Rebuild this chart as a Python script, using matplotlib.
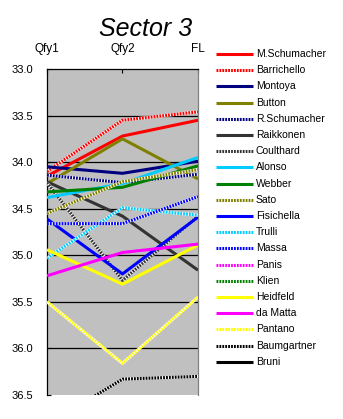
import numpy as np
import matplotlib
matplotlib.use("Agg")
import matplotlib.pyplot as plt
from matplotlib.lines import Line2D

plt.rcParams['font.family'] = ['Liberation Sans', 'DejaVu Sans']
plt.rcParams['lines.scale_dashes'] = False

sessions = ["Qfy1", "Qfy2", "FL"]
y_ticks = [33.0, 33.5, 34.0, 34.5, 35.0, 35.5, 36.0, 36.5]

drivers = ["M.Schumacher", "Barrichello", "Montoya", "Button", "R.Schumacher",
           "Raikkonen", "Coulthard", "Alonso", "Webber", "Sato", "Fisichella",
           "Trulli", "Massa", "Panis", "Klien", "Heidfeld", "da Matta",
           "Pantano", "Baumgartner", "Bruni"]

# sector 3 times (s) for Qfy1, Qfy2, fastest lap
m_schumacher = [34.15, 33.72, 33.55]
barrichello  = [34.10, 33.55, 33.46]
montoya      = [34.05, 34.12, 33.99]
button       = [34.23, 33.75, 34.18]
r_schumacher = [34.14, 34.22, 34.13]
raikkonen    = [34.21, 34.58, 35.16]
coulthard    = [34.22, 35.27, 34.58]
alonso       = [34.38, 34.23, 33.95]
webber       = [34.32, 34.27, 34.04]
sato         = [34.55, 34.21, 34.08]
fisichella   = [34.61, 35.20, 34.59]
trulli       = [35.03, 34.49, 34.57]
massa        = [34.66, 34.66, 34.37]
panis        = [np.nan, np.nan, np.nan]
klien        = [np.nan, np.nan, np.nan]
heidfeld     = [34.94, 35.31, 34.89]
da_matta     = [35.22, 34.97, 34.88]
pantano      = [35.50, 36.16, 35.45]
baumgartner  = [36.82, 36.33, 36.30]
bruni        = [np.nan, np.nan, np.nan]

times = [m_schumacher, barrichello, montoya, button, r_schumacher, raikkonen,
         coulthard, alonso, webber, sato, fisichella, trulli, massa, panis,
         klien, heidfeld, da_matta, pantano, baumgartner, bruni]

colors = ["#FF0000", "#FF0000", "#000080", "#808000", "#000080", "#333333",
          "#333333", "#00CCFF", "#008000", "#808000", "#0000FF", "#00CCFF",
          "#0000FF", "#FF00FF", "#008000", "#FFFF00", "#FF00FF", "#FFFF00",
          "#000000", "#000000"]
dotted = [False, True, False, False, True, False, True, False, False, True,
          False, True, True, True, True, False, False, True, True, False]

W, H = 343, 419
fig = plt.figure(figsize=(W / 100, H / 100), dpi=100)
ax = fig.add_axes([47 / W, 1 - 395 / H, 151 / W, 326 / H])
ax.set_facecolor("#C0C0C0")

x = np.arange(len(sessions))
LW = 2.2

for t in y_ticks[1:-1]:
    ax.axhline(t, color="black", lw=0.9, zorder=1)


def draw_series(xs, ys, color, is_dotted, transform=None):
    kw = {} if transform is None else {"transform": transform}
    if is_dotted:
        a = Line2D(xs, ys, color="white", lw=LW, solid_capstyle="butt", **kw)
        b = Line2D(xs, ys, color=color, lw=LW, linestyle=(0, (1.3, 0.8)),
                   dash_capstyle="butt", **kw)
        return [a, b]
    return [Line2D(xs, ys, color=color, lw=LW, solid_capstyle="butt", **kw)]


for ys, c, d in zip(times, colors, dotted):
    for ln in draw_series(x, ys, c, d):
        ln.set_zorder(3)
        ax.add_line(ln)

ax.set_xlim(0, 2)
ax.set_ylim(36.5, 33.0)
ax.set_yticks(y_ticks)
ax.set_yticklabels([f"{v:.1f}" for v in y_ticks], fontsize=8)
ax.set_xticks(x)
ax.set_xticklabels(sessions, fontsize=8.5)
ax.xaxis.tick_top()
ax.tick_params(axis="x", direction="in", length=3, pad=10, width=0.8, top=True, bottom=False)
ax.tick_params(axis="y", direction="in", length=3, pad=10, width=0.8)
ax.spines["bottom"].set_visible(False)
ax.spines["right"].set_color("#808080")
for s in ("top", "left"):
    ax.spines[s].set_color("black")
    ax.spines[s].set_linewidth(0.9)
ax.spines["right"].set_linewidth(0.9)

fig.text(146 / W, 1 - 29 / H, "Sector 3", fontsize=18, style="italic",
         ha="center", va="center")

# legend drawn row by row on the right
y0, step = 54, 16.2
for i, (name, c, d) in enumerate(zip(drivers, colors, dotted)):
    yy = 1 - (y0 + i * step) / H
    for ln in draw_series([216 / W, 253 / W], [yy, yy], c, d,
                          transform=fig.transFigure):
        fig.add_artist(ln)
    fig.text(256 / W, yy, name, fontsize=7.5, ha="left", va="center")

fig.savefig("out.png", dpi=100)
